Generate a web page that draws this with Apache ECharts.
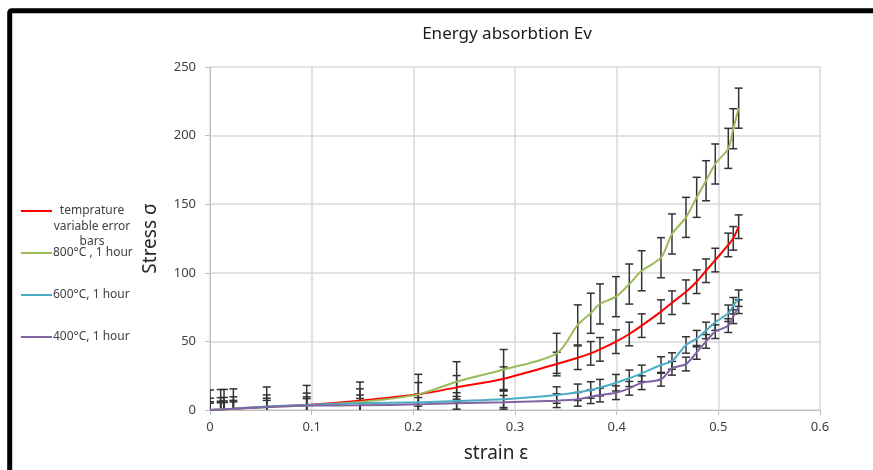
<!DOCTYPE html>
<html>
<head>
<meta charset="utf-8">
<script src="https://cdn.jsdelivr.net/npm/echarts@6/dist/echarts.min.js"></script>
<style>
  html, body { margin: 0; padding: 0; background: #fff; }
  #chart { width: 873px; height: 470px; }
</style>
</head>
<body>
<div id="chart"></div>
<script>
// strain values (shared by all four series)
var strain = [0, 0.0105, 0.0138, 0.023, 0.0558, 0.0951, 0.1475, 0.2049, 0.2426, 0.2888,
  0.341, 0.3617, 0.3745, 0.3836, 0.3993, 0.4124, 0.4246, 0.4436, 0.4544, 0.4682,
  0.4787, 0.4879, 0.497, 0.5098, 0.5147, 0.52];

var stressRed = [0, 0.4, 0.6, 1.0, 2.4, 3.7, 6.8, 11.4, 16.5, 22.8,
  33.5, 38.1, 41.3, 44.2, 49.8, 55.4, 61.5, 71.7, 78.2, 86.2,
  93.5, 101.5, 109.3, 120.3, 125.1, 133.6];
var stress800 = [0, 0.3, 0.4, 0.8, 2.2, 3.3, 5.8, 11.4, 20.6, 29.5,
  41.3, 62, 70.5, 77.3, 82.6, 91.8, 101.5, 111, 128.3, 140.4,
  155, 167.1, 179.3, 190.7, 205, 220];
var stress600 = [0, 0.4, 0.6, 1.0, 2.6, 3.6, 4.9, 5.6, 6.6, 7.8,
  10.9, 12.9, 14.6, 16.3, 19.9, 23.1, 26.7, 32.8, 35.7, 47.4,
  52, 58, 64, 70.5, 76, 81.5];
var stress400 = [0, 0.3, 0.5, 0.9, 2.0, 3.3, 3.4, 4.1, 4.9, 5.6,
  6.8, 7.8, 9.7, 10.9, 12.6, 15.8, 19.9, 22.4, 30.4, 33.5,
  42, 50, 57.1, 61.5, 68, 75.3];

// fixed error bar sizes
var errRed = 8.6;
var err800 = 14.6;
var err600 = 6;
var err400 = 5;

var xTicks = [0, 0.6, 0.1];
var yTicks = [0, 250, 50];

var names = ["temprature variable error bars", "800°C , 1 hour", "600°C, 1 hour", "400°C, 1 hour"];
var colors = ["#ff0000", "#9bbb59", "#4bacc6", "#8064a2"];
var values = [stressRed, stress800, stress600, stress400];
var errors = [errRed, err800, err600, err400];

var myChart = echarts.init(document.getElementById("chart"));

function lineData(vals) {
  return strain.map(function (s, i) { return [s, vals[i]]; });
}
function errData(vals, e) {
  return strain.map(function (s, i) { return [s, vals[i], vals[i] - e, vals[i] + e]; });
}
function renderErr(params, api) {
  var x = api.value(0);
  var top = api.coord([x, api.value(3)]);
  var bot = api.coord([x, api.value(2)]);
  var cap = 4;
  var st = { stroke: "#333333", lineWidth: 1.5 };
  return {
    type: "group",
    children: [
      { type: "line", shape: { x1: top[0], y1: top[1], x2: bot[0], y2: bot[1] }, style: st },
      { type: "line", shape: { x1: top[0] - cap, y1: top[1], x2: top[0] + cap, y2: top[1] }, style: st },
      { type: "line", shape: { x1: bot[0] - cap, y1: bot[1], x2: bot[0] + cap, y2: bot[1] }, style: st }
    ]
  };
}

var series = [];
values.forEach(function (vals, i) {
  series.push({
    name: names[i] + " err",
    type: "custom",
    renderItem: renderErr,
    clip: true,
    z: 2,
    encode: { x: 0, y: 1 },
    data: errData(vals, errors[i])
  });
});
values.forEach(function (vals, i) {
  series.push({
    name: names[i],
    type: "line",
    smooth: 0.3,
    showSymbol: false,
    z: 3,
    lineStyle: { color: colors[i], width: 2 },
    itemStyle: { color: colors[i] },
    data: lineData(vals)
  });
});

// legend drawn at the left, Excel style
var legendFont = "12px 'Noto Sans', sans-serif";
var legendItems = [
  { color: colors[0], y: 211 },
  { color: colors[1], y: 253 },
  { color: colors[2], y: 295 },
  { color: colors[3], y: 337 }
];
var graphics = [
  {
    type: "rect",
    shape: { x: 9.7, y: 10.8, width: 1200, height: 1000, r: 2 },
    style: { fill: "none", stroke: "#000", lineWidth: 5 },
    silent: true
  }
];
legendItems.forEach(function (it) {
  graphics.push({
    type: "line",
    shape: { x1: 21, y1: it.y, x2: 52, y2: it.y },
    style: { stroke: it.color, lineWidth: 2 }
  });
});
graphics.push({
  type: "text", x: 92, y: 203,
  style: { text: "temprature\nvariable error\nbars", font: legendFont, fill: "#404040", align: "center", verticalAlign: "top", lineHeight: 15.5 }
});
graphics.push({ type: "text", x: 53, y: 253, style: { text: names[1], font: legendFont, fill: "#404040", verticalAlign: "middle" } });
graphics.push({ type: "text", x: 53, y: 295, style: { text: names[2], font: legendFont, fill: "#404040", verticalAlign: "middle" } });
graphics.push({ type: "text", x: 53, y: 337, style: { text: names[3], font: legendFont, fill: "#404040", verticalAlign: "middle" } });

myChart.setOption({
  animation: false,
  textStyle: { fontFamily: "'Noto Sans', sans-serif" },
  title: {
    text: "Energy absorbtion Ev",
    left: 502,
    top: 21,
    textAlign: "center",
    textStyle: { fontSize: 17, fontWeight: "normal", color: "#1a1a1a" }
  },
  grid: { left: 210, right: 53, top: 67, bottom: 60 },
  xAxis: {
    type: "value",
    min: xTicks[0],
    max: xTicks[1],
    interval: xTicks[2],
    name: "strain ε",
    nameLocation: "middle",
    nameGap: 34,
    nameTextStyle: { fontSize: 19, color: "#262626", padding: [0, 38, 0, 0] },
    axisLine: { show: true, lineStyle: { color: "#bfbfbf" } },
    axisTick: { show: true, length: 5, lineStyle: { color: "#bfbfbf" } },
    axisLabel: { fontSize: 13, color: "#404040", margin: 11 },
    splitLine: { show: true, lineStyle: { color: "#d9d9d9", width: 1.5 } }
  },
  yAxis: {
    type: "value",
    min: yTicks[0],
    max: yTicks[1],
    interval: yTicks[2],
    name: "Stress σ",
    nameLocation: "middle",
    nameGap: 50,
    nameTextStyle: { fontSize: 19, color: "#262626" },
    axisLine: { show: true, lineStyle: { color: "#bfbfbf" } },
    axisTick: { show: true, length: 5, lineStyle: { color: "#bfbfbf" } },
    axisLabel: { fontSize: 13, color: "#404040", margin: 14 },
    splitLine: { show: true, lineStyle: { color: "#d9d9d9", width: 1.5 } }
  },
  graphic: graphics,
  series: series
});
</script>
</body>
</html>
